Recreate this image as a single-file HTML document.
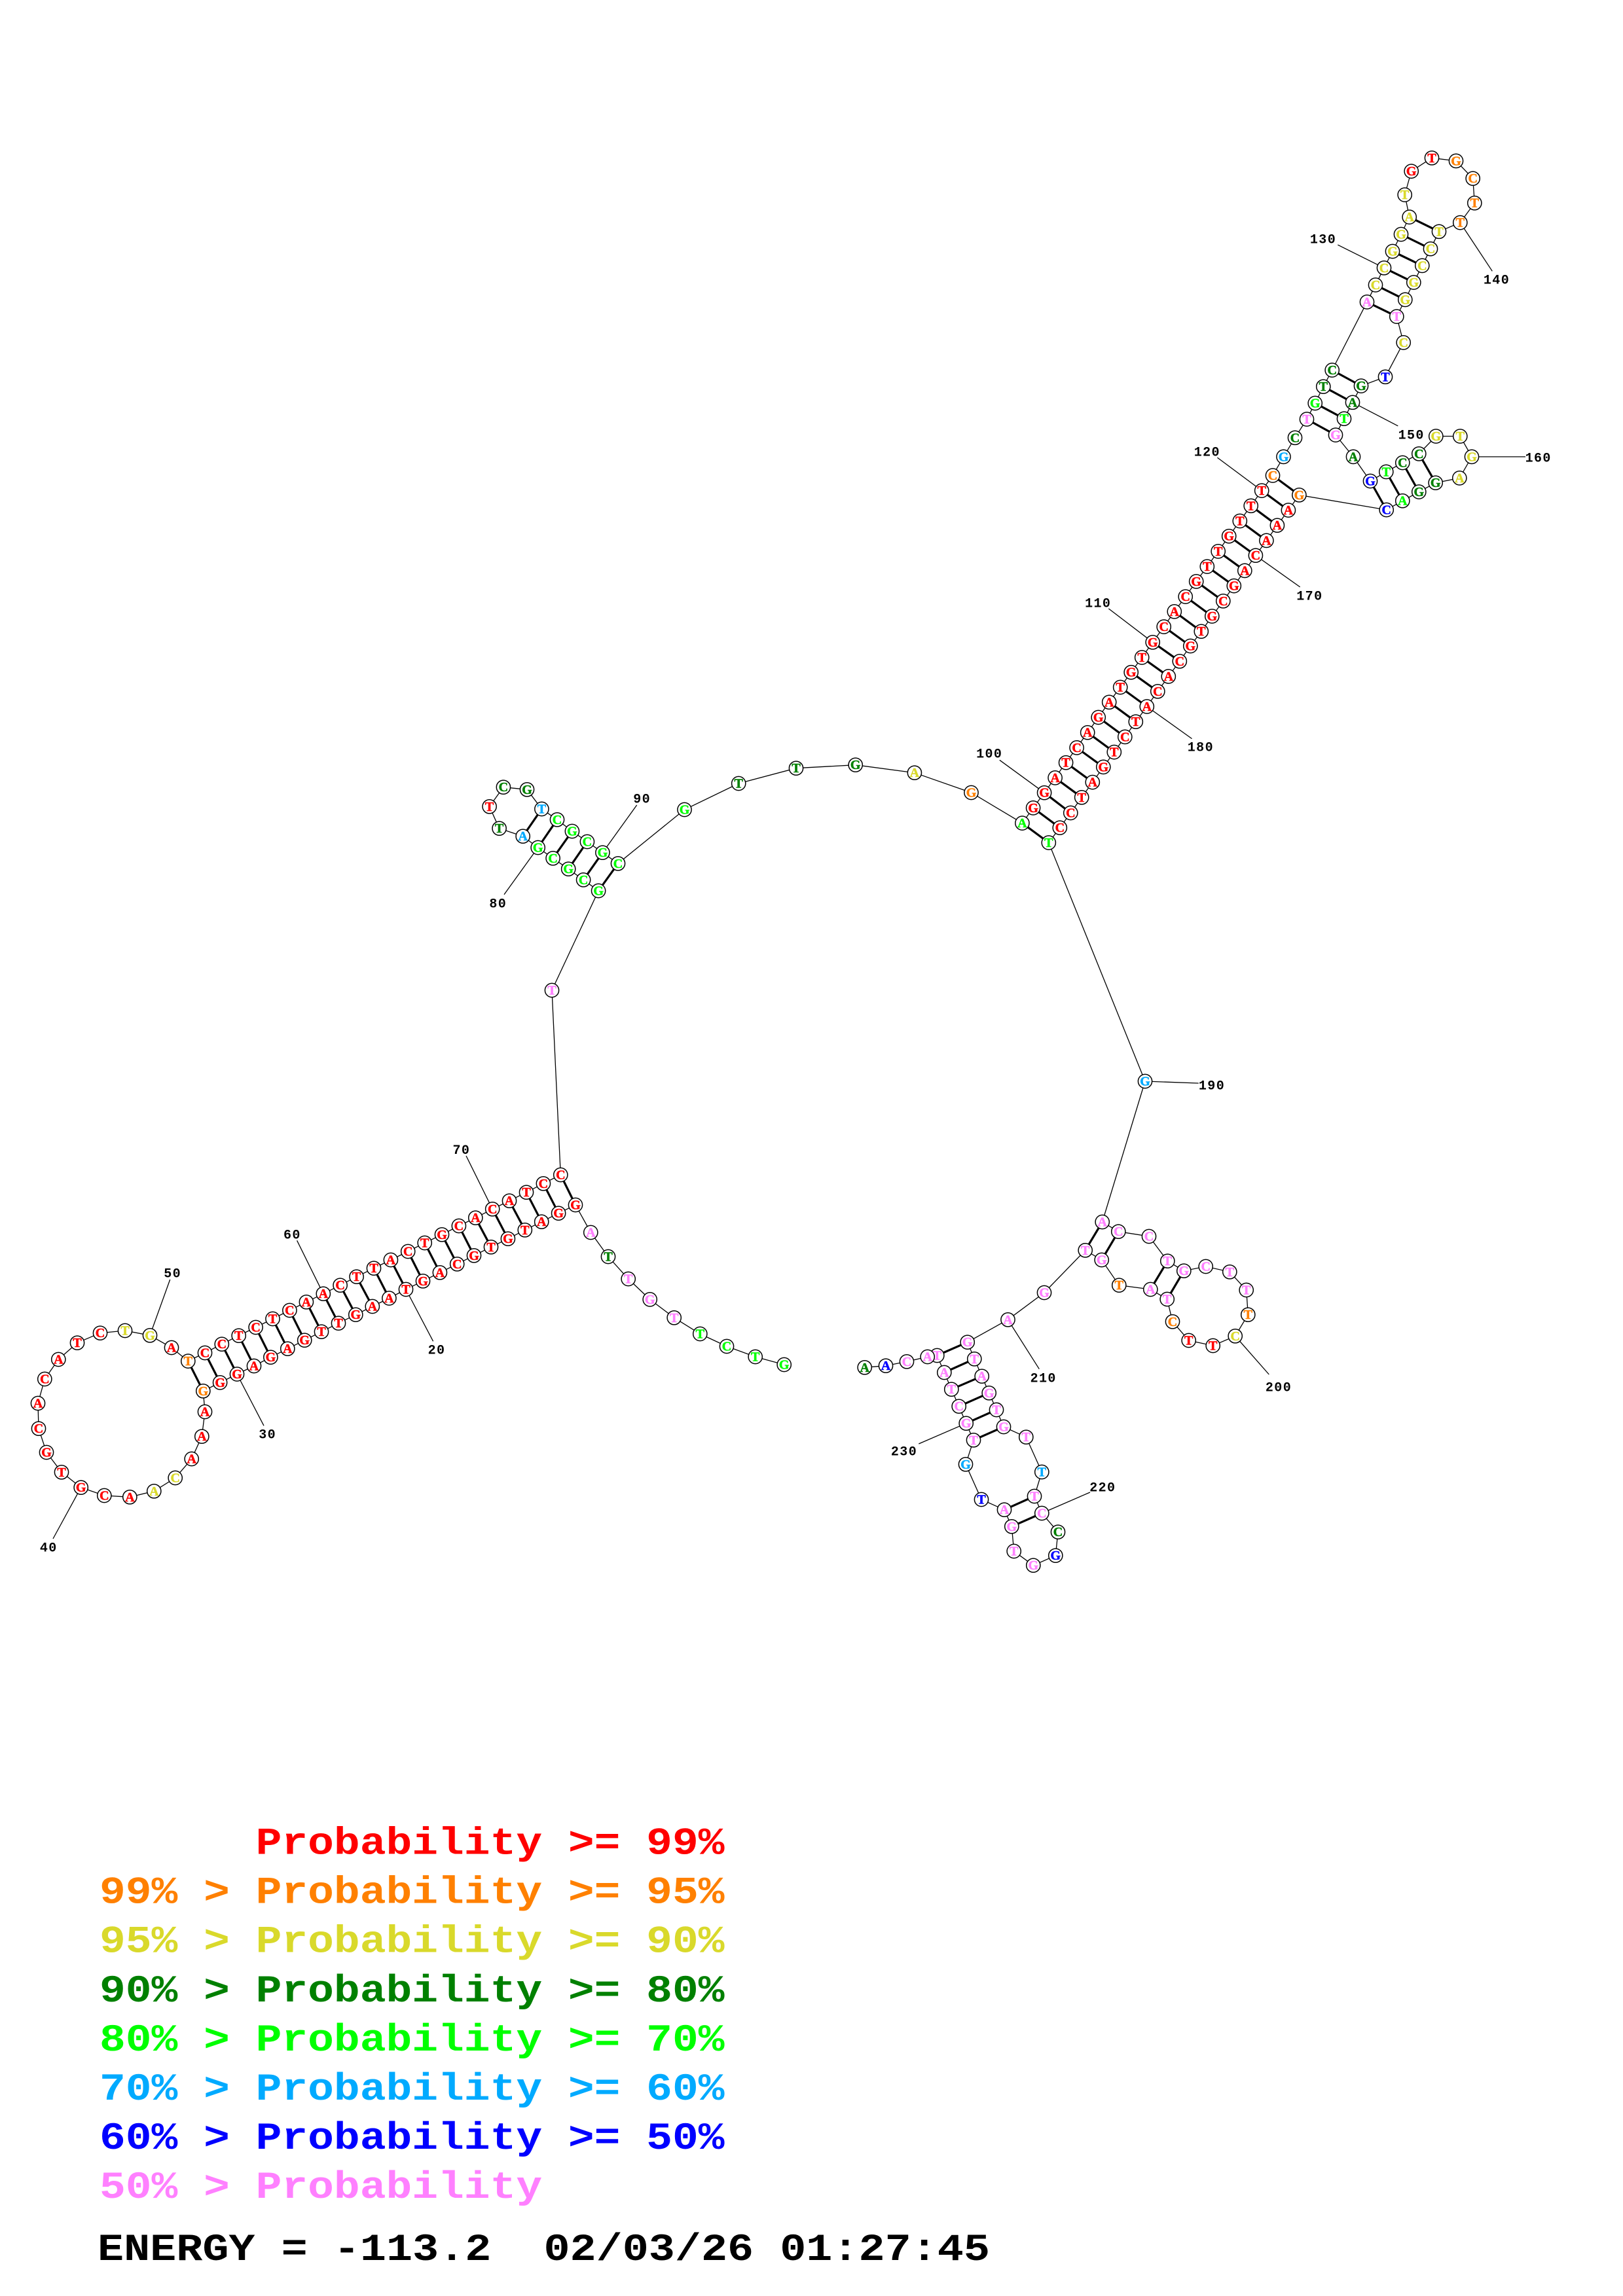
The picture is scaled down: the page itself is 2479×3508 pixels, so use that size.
<!DOCTYPE html>
<html><head><meta charset="utf-8"><title>RNA secondary structure</title>
<style>
html,body{margin:0;padding:0;background:#fff}
svg{display:block}
.bb,.ld{fill:none;stroke:#000;stroke-width:1.3}
.pr{fill:none;stroke:#000;stroke-width:3.2}
circle{fill:#fff;stroke:#000;stroke-width:1.5;r:10.6px}
.n text{font:bold 20px "Liberation Serif",serif;text-anchor:middle;stroke-width:.55px}
.lb text{font:bold 20px "Liberation Mono",monospace;text-anchor:middle;letter-spacing:1.4px;fill:#000}
.lg text{font:bold 58px "Liberation Mono",monospace;white-space:pre}
.r{fill:#f00}.o{fill:#ff8000}.y{fill:#d9d92b}.d{fill:#008000}.g{fill:#0f0}.s{fill:#0af}.b{fill:#00f}.p{fill:#ff80ff}
.n .r{stroke:#f00}.n .o{stroke:#ff8000}.n .y{stroke:#d9d92b}.n .d{stroke:#008000}.n .g{stroke:#0f0}.n .s{stroke:#0af}.n .b{stroke:#00f}.n .p{stroke:#ff80ff}
</style></head><body>
<svg width="2479" height="3508" viewBox="0 0 2479 3508" xmlns="http://www.w3.org/2000/svg">
<rect width="2479" height="3508" fill="#fff"/>
<polyline class="bb" points="1197.7,2085 1153.7,2073 1110,2057 1069.3,2038 1029.7,2013.3 992.7,1985.4 959.7,1954 929,1920 902.3,1883 879,1841 853.1,1853.7 827.2,1866.7 801.8,1879.3 775.9,1892.7 750,1905.3 724,1918.3 698.2,1931.3 671.9,1944.3 646,1957.3 620,1970 594.4,1983.5 568.8,1996 543.3,2008.7 517,2021.7 491,2034.7 465.2,2047.7 439.3,2060.7 413.4,2073.7 388,2087 362,2099.5 336.1,2112.4 310.3,2125.3 313,2157 308.3,2194.7 292.7,2229 267.7,2258 235.3,2278.3 198.3,2287.3 159.3,2285 123.7,2272.7 94,2249.3 71,2219 59,2182.7 58,2144 68.3,2107 89.3,2077 118,2051.7 153,2036.7 191,2033 229,2040.3 262,2059 287.3,2079.6 313,2067 338.8,2053.7 364.7,2040.7 390.6,2028 416.5,2015 442.4,2002 467.9,1989.3 493.8,1976.7 519.6,1963.7 544.6,1950.7 571,1937.7 596.9,1925 623.2,1912 648.7,1899 675,1886.3 700.9,1873 726.3,1860.7 752.2,1847.3 778,1834.7 804,1821.7 829.9,1808.3 856.3,1795 843,1513 914.1,1361 891.1,1344.3 868.2,1327.7 844.6,1311.3 821.7,1295 798.7,1277.7 762.6,1265.7 747.6,1232.3 768.9,1202.7 805,1206.3 827.4,1236 851,1252.3 873.9,1270 896.9,1286 920.4,1302.7 944,1319.3 1045.5,1237 1128.2,1197 1216,1173.7 1306.7,1168.7 1396.9,1180.7 1483.5,1211 1561.4,1257.6 1578.1,1234.4 1595.1,1211.2 1611.6,1188.4 1628.1,1165.2 1644.6,1142.4 1661.2,1119.2 1677.7,1096 1694.2,1072.8 1711.2,1050 1727.7,1027.2 1744.2,1004.5 1760.7,981.3 1777.7,957.6 1793.8,934.4 1810.7,911.6 1827.2,888.4 1843.8,865.6 1860.7,842.4 1877.2,819.2 1893.8,796 1910.7,772.8 1927.2,749.6 1944,726.5 1960.5,697.9 1978,668.8 1996,640.5 2008.7,616 2021.3,590.7 2034.7,565.5 2088,461.4 2101,435.4 2114,409.3 2127,384 2140,358 2152.7,331.6 2145.7,297.6 2155.7,261.6 2187,241.3 2224,245.9 2249.7,272.7 2252.3,310.2 2230.3,340.1 2198,353.8 2185,380.2 2172.3,405.9 2159.3,431.5 2146.3,457.9 2133.3,483.6 2143.7,523.4 2116,575.8 2079,589.6 2066,614.8 2053,639.7 2040,664.6 2067,697.9 2093,735 2117.3,720.9 2142.3,707 2167.3,693.3 2193.3,666.5 2230.3,666.5 2248,697.9 2229.3,730.4 2192.7,737.7 2167.3,751.5 2142.3,765.2 2117.7,779 1984.4,756.3 1967.9,779.5 1950.9,802.7 1934.4,825.9 1917.9,848.7 1901.3,871.9 1884.8,895.1 1868.3,918.3 1851.3,941.5 1834.8,964.7 1818.3,987 1801.8,1010.3 1784.8,1033.5 1768.3,1056.3 1751.8,1079.5 1734.8,1102.7 1718.3,1125.9 1701.8,1149.1 1685.3,1171.9 1668.8,1195.1 1652.2,1218.3 1635.3,1242 1618.8,1264.7 1601.8,1287.5 1749,1652 1683.7,1867 1708.3,1881.7 1755,1889 1783.3,1926.7 1808.3,1941.7 1841.7,1935 1878.3,1943.3 1903.7,1971 1906.3,2008.7 1886.7,2041.3 1852.7,2056 1815.7,2048 1791,2019.3 1782.7,1985 1757.3,1970 1709.3,1963.7 1682.7,1925 1657.7,1910.3 1595,1975 1539.5,2016.3 1477.7,2050.7 1488.3,2076.3 1499.7,2102.7 1510.7,2128.3 1522,2154 1533,2180 1567.3,2195.7 1591.3,2249 1580,2286 1591.3,2312 1616,2340.7 1612.3,2376.7 1578.3,2391.7 1548.7,2370 1545.3,2332.3 1534,2306.7 1499,2291 1475,2237.3 1487,2200.3 1475.7,2174.7 1464.7,2148.7 1453.3,2122.7 1442.3,2097 1431.3,2071 1416.7,2073 1385,2080.3 1353,2086.7 1320.7,2089.3"/>
<path class="pr" d="M879 1841L856.3 1795M853.1 1853.7L829.9 1808.3M827.2 1866.7L804 1821.7M801.8 1879.3L778 1834.7M775.9 1892.7L752.2 1847.3M750 1905.3L726.3 1860.7M724 1918.3L700.9 1873M698.2 1931.3L675 1886.3M671.9 1944.3L648.7 1899M646 1957.3L623.2 1912M620 1970L596.9 1925M594.4 1983.5L571 1937.7M568.8 1996L544.6 1950.7M543.3 2008.7L519.6 1963.7M517 2021.7L493.8 1976.7M491 2034.7L467.9 1989.3M465.2 2047.7L442.4 2002M439.3 2060.7L416.5 2015M413.4 2073.7L390.6 2028M388 2087L364.7 2040.7M362 2099.5L338.8 2053.7M336.1 2112.4L313 2067M310.3 2125.3L287.3 2079.6
M914.1 1361L944 1319.3M891.1 1344.3L920.4 1302.7M868.2 1327.7L896.9 1286M844.6 1311.3L873.9 1270M821.7 1295L851 1252.3M798.7 1277.7L827.4 1236
M1561.4 1257.6L1601.8 1287.5M1578.1 1234.4L1618.8 1264.7M1595.1 1211.2L1635.3 1242M1611.6 1188.4L1652.2 1218.3M1628.1 1165.2L1668.8 1195.1M1644.6 1142.4L1685.3 1171.9M1661.2 1119.2L1701.8 1149.1M1677.7 1096L1718.3 1125.9M1694.2 1072.8L1734.8 1102.7M1711.2 1050L1751.8 1079.5M1727.7 1027.2L1768.3 1056.3M1744.2 1004.5L1784.8 1033.5M1760.7 981.3L1801.8 1010.3M1777.7 957.6L1818.3 987M1793.8 934.4L1834.8 964.7M1810.7 911.6L1851.3 941.5M1827.2 888.4L1868.3 918.3M1843.8 865.6L1884.8 895.1M1860.7 842.4L1901.3 871.9M1877.2 819.2L1917.9 848.7M1893.8 796L1934.4 825.9M1910.7 772.8L1950.9 802.7M1927.2 749.6L1967.9 779.5M1944 726.5L1984.4 756.3
M1996 640.5L2040 664.6M2008.7 616L2053 639.7M2021.3 590.7L2066 614.8M2034.7 565.5L2079 589.6
M2088 461.4L2133.3 483.6M2101 435.4L2146.3 457.9M2114 409.3L2159.3 431.5M2127 384L2172.3 405.9M2140 358L2185 380.2M2152.7 331.6L2198 353.8
M2093 735L2117.7 779M2117.3 720.9L2142.3 765.2M2142.3 707L2167.3 751.5M2167.3 693.3L2192.7 737.7
M1683.7 1867L1657.7 1910.3M1708.3 1881.7L1682.7 1925M1783.3 1926.7L1757.3 1970M1808.3 1941.7L1782.7 1985
M1477.7 2050.7L1431.3 2071M1488.3 2076.3L1442.3 2097M1499.7 2102.7L1453.3 2122.7M1510.7 2128.3L1464.7 2148.7M1522 2154L1475.7 2174.7M1533 2180L1487 2200.3
M1580 2286L1534 2306.7M1591.3 2312L1545.3 2332.3"/>
<path class="ld" d="M2043.3 374.1L2114 409.3M2279.3 414.3L2230.3 340.1M2135.3 650.8L2066 614.8M2330 697.9L2248 697.9M1859.4 699.1L1927.2 749.6M1985.7 896.9L1917.9 848.7M1693.3 929.9L1760.7 981.3M1820.5 1128.6L1751.8 1079.5M1526.8 1161.3L1595.1 1211.2M972.7 1230L920.4 1302.7M770 1366.7L821.7 1295M712 1766L752.2 1847.3M453.6 1895.3L493.8 1976.7M259.7 1955L229 2040.3M81 2351L123.7 2272.7M403 2178.3L362 2099.5M661.6 2049.3L620 1970M1830.7 1655L1749 1652M1938.3 2100L1886.7 2041.3M1587.3 2091.7L1539.5 2016.3M1665 2280L1591.3 2312M1403.3 2206L1475.7 2174.7"/>
<g>
<circle cx="1197.7" cy="2085"/><circle cx="1153.7" cy="2073"/><circle cx="1110" cy="2057"/><circle cx="1069.3" cy="2038"/><circle cx="1029.7" cy="2013.3"/><circle cx="992.7" cy="1985.4"/><circle cx="959.7" cy="1954"/><circle cx="929" cy="1920"/><circle cx="902.3" cy="1883"/><circle cx="879" cy="1841"/><circle cx="853.1" cy="1853.7"/><circle cx="827.2" cy="1866.7"/><circle cx="801.8" cy="1879.3"/><circle cx="775.9" cy="1892.7"/><circle cx="750" cy="1905.3"/><circle cx="724" cy="1918.3"/><circle cx="698.2" cy="1931.3"/><circle cx="671.9" cy="1944.3"/><circle cx="646" cy="1957.3"/><circle cx="620" cy="1970"/><circle cx="594.4" cy="1983.5"/><circle cx="568.8" cy="1996"/><circle cx="543.3" cy="2008.7"/><circle cx="517" cy="2021.7"/><circle cx="491" cy="2034.7"/><circle cx="465.2" cy="2047.7"/><circle cx="439.3" cy="2060.7"/><circle cx="413.4" cy="2073.7"/><circle cx="388" cy="2087"/><circle cx="362" cy="2099.5"/><circle cx="336.1" cy="2112.4"/><circle cx="310.3" cy="2125.3"/><circle cx="313" cy="2157"/><circle cx="308.3" cy="2194.7"/><circle cx="292.7" cy="2229"/><circle cx="267.7" cy="2258"/><circle cx="235.3" cy="2278.3"/><circle cx="198.3" cy="2287.3"/><circle cx="159.3" cy="2285"/><circle cx="123.7" cy="2272.7"/><circle cx="94" cy="2249.3"/><circle cx="71" cy="2219"/><circle cx="59" cy="2182.7"/><circle cx="58" cy="2144"/><circle cx="68.3" cy="2107"/><circle cx="89.3" cy="2077"/><circle cx="118" cy="2051.7"/><circle cx="153" cy="2036.7"/><circle cx="191" cy="2033"/><circle cx="229" cy="2040.3"/><circle cx="262" cy="2059"/><circle cx="287.3" cy="2079.6"/><circle cx="313" cy="2067"/><circle cx="338.8" cy="2053.7"/><circle cx="364.7" cy="2040.7"/><circle cx="390.6" cy="2028"/><circle cx="416.5" cy="2015"/><circle cx="442.4" cy="2002"/><circle cx="467.9" cy="1989.3"/><circle cx="493.8" cy="1976.7"/><circle cx="519.6" cy="1963.7"/><circle cx="544.6" cy="1950.7"/><circle cx="571" cy="1937.7"/><circle cx="596.9" cy="1925"/><circle cx="623.2" cy="1912"/><circle cx="648.7" cy="1899"/><circle cx="675" cy="1886.3"/><circle cx="700.9" cy="1873"/><circle cx="726.3" cy="1860.7"/><circle cx="752.2" cy="1847.3"/><circle cx="778" cy="1834.7"/><circle cx="804" cy="1821.7"/><circle cx="829.9" cy="1808.3"/><circle cx="856.3" cy="1795"/><circle cx="843" cy="1513"/><circle cx="914.1" cy="1361"/><circle cx="891.1" cy="1344.3"/><circle cx="868.2" cy="1327.7"/><circle cx="844.6" cy="1311.3"/><circle cx="821.7" cy="1295"/><circle cx="798.7" cy="1277.7"/><circle cx="762.6" cy="1265.7"/><circle cx="747.6" cy="1232.3"/><circle cx="768.9" cy="1202.7"/><circle cx="805" cy="1206.3"/><circle cx="827.4" cy="1236"/><circle cx="851" cy="1252.3"/><circle cx="873.9" cy="1270"/><circle cx="896.9" cy="1286"/><circle cx="920.4" cy="1302.7"/><circle cx="944" cy="1319.3"/><circle cx="1045.5" cy="1237"/><circle cx="1128.2" cy="1197"/><circle cx="1216" cy="1173.7"/><circle cx="1306.7" cy="1168.7"/><circle cx="1396.9" cy="1180.7"/><circle cx="1483.5" cy="1211"/><circle cx="1561.4" cy="1257.6"/><circle cx="1578.1" cy="1234.4"/><circle cx="1595.1" cy="1211.2"/><circle cx="1611.6" cy="1188.4"/><circle cx="1628.1" cy="1165.2"/><circle cx="1644.6" cy="1142.4"/><circle cx="1661.2" cy="1119.2"/><circle cx="1677.7" cy="1096"/><circle cx="1694.2" cy="1072.8"/><circle cx="1711.2" cy="1050"/><circle cx="1727.7" cy="1027.2"/><circle cx="1744.2" cy="1004.5"/><circle cx="1760.7" cy="981.3"/><circle cx="1777.7" cy="957.6"/><circle cx="1793.8" cy="934.4"/><circle cx="1810.7" cy="911.6"/><circle cx="1827.2" cy="888.4"/><circle cx="1843.8" cy="865.6"/><circle cx="1860.7" cy="842.4"/><circle cx="1877.2" cy="819.2"/><circle cx="1893.8" cy="796"/><circle cx="1910.7" cy="772.8"/><circle cx="1927.2" cy="749.6"/><circle cx="1944" cy="726.5"/><circle cx="1960.5" cy="697.9"/><circle cx="1978" cy="668.8"/><circle cx="1996" cy="640.5"/><circle cx="2008.7" cy="616"/><circle cx="2021.3" cy="590.7"/><circle cx="2034.7" cy="565.5"/><circle cx="2088" cy="461.4"/><circle cx="2101" cy="435.4"/><circle cx="2114" cy="409.3"/><circle cx="2127" cy="384"/><circle cx="2140" cy="358"/><circle cx="2152.7" cy="331.6"/><circle cx="2145.7" cy="297.6"/><circle cx="2155.7" cy="261.6"/><circle cx="2187" cy="241.3"/><circle cx="2224" cy="245.9"/><circle cx="2249.7" cy="272.7"/><circle cx="2252.3" cy="310.2"/><circle cx="2230.3" cy="340.1"/><circle cx="2198" cy="353.8"/><circle cx="2185" cy="380.2"/><circle cx="2172.3" cy="405.9"/><circle cx="2159.3" cy="431.5"/><circle cx="2146.3" cy="457.9"/><circle cx="2133.3" cy="483.6"/><circle cx="2143.7" cy="523.4"/><circle cx="2116" cy="575.8"/><circle cx="2079" cy="589.6"/><circle cx="2066" cy="614.8"/><circle cx="2053" cy="639.7"/><circle cx="2040" cy="664.6"/><circle cx="2067" cy="697.9"/><circle cx="2093" cy="735"/><circle cx="2117.3" cy="720.9"/><circle cx="2142.3" cy="707"/><circle cx="2167.3" cy="693.3"/><circle cx="2193.3" cy="666.5"/><circle cx="2230.3" cy="666.5"/><circle cx="2248" cy="697.9"/><circle cx="2229.3" cy="730.4"/><circle cx="2192.7" cy="737.7"/><circle cx="2167.3" cy="751.5"/><circle cx="2142.3" cy="765.2"/><circle cx="2117.7" cy="779"/><circle cx="1984.4" cy="756.3"/><circle cx="1967.9" cy="779.5"/><circle cx="1950.9" cy="802.7"/><circle cx="1934.4" cy="825.9"/><circle cx="1917.9" cy="848.7"/><circle cx="1901.3" cy="871.9"/><circle cx="1884.8" cy="895.1"/><circle cx="1868.3" cy="918.3"/><circle cx="1851.3" cy="941.5"/><circle cx="1834.8" cy="964.7"/><circle cx="1818.3" cy="987"/><circle cx="1801.8" cy="1010.3"/><circle cx="1784.8" cy="1033.5"/><circle cx="1768.3" cy="1056.3"/><circle cx="1751.8" cy="1079.5"/><circle cx="1734.8" cy="1102.7"/><circle cx="1718.3" cy="1125.9"/><circle cx="1701.8" cy="1149.1"/><circle cx="1685.3" cy="1171.9"/><circle cx="1668.8" cy="1195.1"/><circle cx="1652.2" cy="1218.3"/><circle cx="1635.3" cy="1242"/><circle cx="1618.8" cy="1264.7"/><circle cx="1601.8" cy="1287.5"/><circle cx="1749" cy="1652"/><circle cx="1683.7" cy="1867"/><circle cx="1708.3" cy="1881.7"/><circle cx="1755" cy="1889"/><circle cx="1783.3" cy="1926.7"/><circle cx="1808.3" cy="1941.7"/><circle cx="1841.7" cy="1935"/><circle cx="1878.3" cy="1943.3"/><circle cx="1903.7" cy="1971"/><circle cx="1906.3" cy="2008.7"/><circle cx="1886.7" cy="2041.3"/><circle cx="1852.7" cy="2056"/><circle cx="1815.7" cy="2048"/><circle cx="1791" cy="2019.3"/><circle cx="1782.7" cy="1985"/><circle cx="1757.3" cy="1970"/><circle cx="1709.3" cy="1963.7"/><circle cx="1682.7" cy="1925"/><circle cx="1657.7" cy="1910.3"/><circle cx="1595" cy="1975"/><circle cx="1539.5" cy="2016.3"/><circle cx="1477.7" cy="2050.7"/><circle cx="1488.3" cy="2076.3"/><circle cx="1499.7" cy="2102.7"/><circle cx="1510.7" cy="2128.3"/><circle cx="1522" cy="2154"/><circle cx="1533" cy="2180"/><circle cx="1567.3" cy="2195.7"/><circle cx="1591.3" cy="2249"/><circle cx="1580" cy="2286"/><circle cx="1591.3" cy="2312"/><circle cx="1616" cy="2340.7"/><circle cx="1612.3" cy="2376.7"/><circle cx="1578.3" cy="2391.7"/><circle cx="1548.7" cy="2370"/><circle cx="1545.3" cy="2332.3"/><circle cx="1534" cy="2306.7"/><circle cx="1499" cy="2291"/><circle cx="1475" cy="2237.3"/><circle cx="1487" cy="2200.3"/><circle cx="1475.7" cy="2174.7"/><circle cx="1464.7" cy="2148.7"/><circle cx="1453.3" cy="2122.7"/><circle cx="1442.3" cy="2097"/><circle cx="1431.3" cy="2071"/><circle cx="1385" cy="2080.3"/><circle cx="1353" cy="2086.7"/><circle cx="1320.7" cy="2089.3"/>
</g>
<g class="n" transform="translate(0,6.5)">
<text class="g" x="1197.7" y="2085">G</text><text class="g" x="1153.7" y="2073">T</text><text class="g" x="1110" y="2057">C</text><text class="g" x="1069.3" y="2038">T</text><text class="p" x="1029.7" y="2013.3">T</text><text class="p" x="992.7" y="1985.4">G</text><text class="p" x="959.7" y="1954">T</text><text class="d" x="929" y="1920">T</text><text class="p" x="902.3" y="1883">A</text>
<text class="r" x="879" y="1841">G</text><text class="r" x="853.1" y="1853.7">G</text><text class="r" x="827.2" y="1866.7">A</text><text class="r" x="801.8" y="1879.3">T</text><text class="r" x="775.9" y="1892.7">G</text><text class="r" x="750" y="1905.3">T</text><text class="r" x="724" y="1918.3">G</text><text class="r" x="698.2" y="1931.3">C</text><text class="r" x="671.9" y="1944.3">A</text><text class="r" x="646" y="1957.3">G</text><text class="r" x="620" y="1970">T</text><text class="r" x="594.4" y="1983.5">A</text><text class="r" x="568.8" y="1996">A</text><text class="r" x="543.3" y="2008.7">G</text><text class="r" x="517" y="2021.7">T</text><text class="r" x="491" y="2034.7">T</text><text class="r" x="465.2" y="2047.7">G</text><text class="r" x="439.3" y="2060.7">A</text><text class="r" x="413.4" y="2073.7">G</text><text class="r" x="388" y="2087">A</text><text class="r" x="362" y="2099.5">G</text><text class="r" x="336.1" y="2112.4">G</text>
<text class="o" x="310.3" y="2125.3">G</text><text class="r" x="313" y="2157">A</text><text class="r" x="308.3" y="2194.7">A</text><text class="r" x="292.7" y="2229">A</text><text class="y" x="267.7" y="2258">C</text><text class="y" x="235.3" y="2278.3">A</text><text class="r" x="198.3" y="2287.3">A</text><text class="r" x="159.3" y="2285">C</text><text class="r" x="123.7" y="2272.7">G</text><text class="r" x="94" y="2249.3">T</text><text class="r" x="71" y="2219">G</text><text class="r" x="59" y="2182.7">C</text><text class="r" x="58" y="2144">A</text><text class="r" x="68.3" y="2107">C</text><text class="r" x="89.3" y="2077">A</text><text class="r" x="118" y="2051.7">T</text><text class="r" x="153" y="2036.7">C</text><text class="y" x="191" y="2033">T</text><text class="y" x="229" y="2040.3">G</text><text class="r" x="262" y="2059">A</text><text class="o" x="287.3" y="2079.6">T</text>
<text class="r" x="313" y="2067">C</text><text class="r" x="338.8" y="2053.7">C</text><text class="r" x="364.7" y="2040.7">T</text><text class="r" x="390.6" y="2028">C</text><text class="r" x="416.5" y="2015">T</text><text class="r" x="442.4" y="2002">C</text><text class="r" x="467.9" y="1989.3">A</text><text class="r" x="493.8" y="1976.7">A</text><text class="r" x="519.6" y="1963.7">C</text><text class="r" x="544.6" y="1950.7">T</text><text class="r" x="571" y="1937.7">T</text><text class="r" x="596.9" y="1925">A</text><text class="r" x="623.2" y="1912">C</text><text class="r" x="648.7" y="1899">T</text><text class="r" x="675" y="1886.3">G</text><text class="r" x="700.9" y="1873">C</text><text class="r" x="726.3" y="1860.7">A</text><text class="r" x="752.2" y="1847.3">C</text><text class="r" x="778" y="1834.7">A</text><text class="r" x="804" y="1821.7">T</text><text class="r" x="829.9" y="1808.3">C</text><text class="r" x="856.3" y="1795">C</text>
<text class="p" x="843" y="1513">T</text><text class="g" x="914.1" y="1361">G</text><text class="g" x="891.1" y="1344.3">C</text><text class="g" x="868.2" y="1327.7">G</text><text class="g" x="844.6" y="1311.3">C</text><text class="g" x="821.7" y="1295">G</text><text class="s" x="798.7" y="1277.7">A</text><text class="d" x="762.6" y="1265.7">T</text><text class="r" x="747.6" y="1232.3">T</text><text class="d" x="768.9" y="1202.7">C</text><text class="d" x="805" y="1206.3">G</text><text class="s" x="827.4" y="1236">T</text><text class="g" x="851" y="1252.3">C</text><text class="g" x="873.9" y="1270">G</text><text class="g" x="896.9" y="1286">C</text><text class="g" x="920.4" y="1302.7">G</text><text class="g" x="944" y="1319.3">C</text><text class="g" x="1045.5" y="1237">G</text><text class="d" x="1128.2" y="1197">T</text><text class="d" x="1216" y="1173.7">T</text><text class="d" x="1306.7" y="1168.7">G</text><text class="y" x="1396.9" y="1180.7">A</text><text class="o" x="1483.5" y="1211">G</text><text class="g" x="1561.4" y="1257.6">A</text>
<text class="r" x="1578.1" y="1234.4">G</text><text class="r" x="1595.1" y="1211.2">G</text><text class="r" x="1611.6" y="1188.4">A</text><text class="r" x="1628.1" y="1165.2">T</text><text class="r" x="1644.6" y="1142.4">C</text><text class="r" x="1661.2" y="1119.2">A</text><text class="r" x="1677.7" y="1096">G</text><text class="r" x="1694.2" y="1072.8">A</text><text class="r" x="1711.2" y="1050">T</text><text class="r" x="1727.7" y="1027.2">G</text><text class="r" x="1744.2" y="1004.5">T</text><text class="r" x="1760.7" y="981.3">G</text><text class="r" x="1777.7" y="957.6">C</text><text class="r" x="1793.8" y="934.4">A</text><text class="r" x="1810.7" y="911.6">C</text><text class="r" x="1827.2" y="888.4">G</text><text class="r" x="1843.8" y="865.6">T</text><text class="r" x="1860.7" y="842.4">T</text><text class="r" x="1877.2" y="819.2">G</text><text class="r" x="1893.8" y="796">T</text><text class="r" x="1910.7" y="772.8">T</text><text class="r" x="1927.2" y="749.6">T</text>
<text class="o" x="1944" y="726.5">C</text><text class="s" x="1960.5" y="697.9">G</text><text class="d" x="1978" y="668.8">C</text><text class="p" x="1996" y="640.5">T</text><text class="g" x="2008.7" y="616">G</text><text class="d" x="2021.3" y="590.7">T</text><text class="d" x="2034.7" y="565.5">C</text><text class="p" x="2088" y="461.4">A</text><text class="y" x="2101" y="435.4">C</text><text class="y" x="2114" y="409.3">C</text><text class="y" x="2127" y="384">G</text><text class="y" x="2140" y="358">G</text><text class="y" x="2152.7" y="331.6">A</text><text class="y" x="2145.7" y="297.6">T</text><text class="r" x="2155.7" y="261.6">G</text><text class="r" x="2187" y="241.3">T</text><text class="o" x="2224" y="245.9">G</text><text class="o" x="2249.7" y="272.7">C</text><text class="o" x="2252.3" y="310.2">T</text><text class="o" x="2230.3" y="340.1">T</text><text class="y" x="2198" y="353.8">T</text><text class="y" x="2185" y="380.2">C</text><text class="y" x="2172.3" y="405.9">C</text><text class="y" x="2159.3" y="431.5">G</text><text class="y" x="2146.3" y="457.9">G</text><text class="p" x="2133.3" y="483.6">T</text><text class="y" x="2143.7" y="523.4">C</text><text class="b" x="2116" y="575.8">T</text><text class="d" x="2079" y="589.6">G</text><text class="d" x="2066" y="614.8">A</text><text class="g" x="2053" y="639.7">T</text><text class="p" x="2040" y="664.6">G</text><text class="d" x="2067" y="697.9">A</text><text class="b" x="2093" y="735">G</text><text class="g" x="2117.3" y="720.9">T</text><text class="d" x="2142.3" y="707">C</text><text class="d" x="2167.3" y="693.3">C</text><text class="y" x="2193.3" y="666.5">G</text><text class="y" x="2230.3" y="666.5">T</text><text class="y" x="2248" y="697.9">G</text><text class="y" x="2229.3" y="730.4">A</text><text class="d" x="2192.7" y="737.7">G</text><text class="d" x="2167.3" y="751.5">G</text><text class="g" x="2142.3" y="765.2">A</text><text class="b" x="2117.7" y="779">C</text><text class="o" x="1984.4" y="756.3">G</text>
<text class="r" x="1967.9" y="779.5">A</text><text class="r" x="1950.9" y="802.7">A</text><text class="r" x="1934.4" y="825.9">A</text><text class="r" x="1917.9" y="848.7">C</text><text class="r" x="1901.3" y="871.9">A</text><text class="r" x="1884.8" y="895.1">G</text><text class="r" x="1868.3" y="918.3">C</text><text class="r" x="1851.3" y="941.5">G</text><text class="r" x="1834.8" y="964.7">T</text><text class="r" x="1818.3" y="987">G</text><text class="r" x="1801.8" y="1010.3">C</text><text class="r" x="1784.8" y="1033.5">A</text><text class="r" x="1768.3" y="1056.3">C</text><text class="r" x="1751.8" y="1079.5">A</text><text class="r" x="1734.8" y="1102.7">T</text><text class="r" x="1718.3" y="1125.9">C</text><text class="r" x="1701.8" y="1149.1">T</text><text class="r" x="1685.3" y="1171.9">G</text><text class="r" x="1668.8" y="1195.1">A</text><text class="r" x="1652.2" y="1218.3">T</text><text class="r" x="1635.3" y="1242">C</text><text class="r" x="1618.8" y="1264.7">C</text><text class="g" x="1601.8" y="1287.5">T</text><text class="s" x="1749" y="1652">G</text>
<text class="p" x="1683.7" y="1867">A</text><text class="p" x="1708.3" y="1881.7">C</text><text class="p" x="1755" y="1889">C</text><text class="p" x="1783.3" y="1926.7">T</text><text class="p" x="1808.3" y="1941.7">G</text><text class="p" x="1841.7" y="1935">C</text><text class="p" x="1878.3" y="1943.3">T</text><text class="p" x="1903.7" y="1971">T</text><text class="o" x="1906.3" y="2008.7">T</text><text class="y" x="1886.7" y="2041.3">C</text><text class="r" x="1852.7" y="2056">T</text><text class="r" x="1815.7" y="2048">T</text><text class="o" x="1791" y="2019.3">C</text><text class="p" x="1782.7" y="1985">T</text><text class="p" x="1757.3" y="1970">A</text><text class="o" x="1709.3" y="1963.7">T</text><text class="p" x="1682.7" y="1925">G</text><text class="p" x="1657.7" y="1910.3">T</text><text class="p" x="1595" y="1975">G</text><text class="p" x="1539.5" y="2016.3">A</text>
<text class="p" x="1477.7" y="2050.7">G</text><text class="p" x="1488.3" y="2076.3">T</text><text class="p" x="1499.7" y="2102.7">A</text><text class="p" x="1510.7" y="2128.3">G</text><text class="p" x="1522" y="2154">T</text><text class="p" x="1533" y="2180">G</text><text class="p" x="1567.3" y="2195.7">T</text><text class="s" x="1591.3" y="2249">T</text><text class="p" x="1580" y="2286">T</text><text class="p" x="1591.3" y="2312">C</text><text class="d" x="1616" y="2340.7">C</text><text class="b" x="1612.3" y="2376.7">G</text><text class="p" x="1578.3" y="2391.7">G</text><text class="p" x="1548.7" y="2370">T</text><text class="p" x="1545.3" y="2332.3">G</text><text class="p" x="1534" y="2306.7">A</text><text class="b" x="1499" y="2291">T</text><text class="s" x="1475" y="2237.3">G</text><text class="p" x="1487" y="2200.3">T</text><text class="p" x="1475.7" y="2174.7">G</text><text class="p" x="1464.7" y="2148.7">C</text><text class="p" x="1453.3" y="2122.7">T</text><text class="p" x="1442.3" y="2097">A</text><text class="p" x="1431.3" y="2071">T</text><text class="p" x="1385" y="2080.3">C</text><text class="b" x="1353" y="2086.7">A</text><text class="d" x="1320.7" y="2089.3">A</text>
</g>
<circle cx="1416.7" cy="2073"/>
<g class="n"><text class="p" x="1416.7" y="2079.5">A</text></g>
<g class="lb" transform="translate(0,7)">
<text x="2021" y="364.6">130</text><text x="2286" y="426.6">140</text><text x="2155.7" y="663.4">150</text><text x="2349.7" y="698.7">160</text><text x="1843.8" y="689.7">120</text><text x="2000.4" y="909.4">170</text><text x="1677.2" y="920.5">110</text><text x="1833.9" y="1140.6">180</text><text x="1511.2" y="1150.7">100</text><text x="980.7" y="1219.3">90</text><text x="760.8" y="1379.3">80</text><text x="704.9" y="1756">70</text><text x="446.4" y="1885.7">60</text><text x="263.7" y="1944.3">50</text><text x="74.3" y="2363.3">40</text><text x="408.7" y="2190.3">30</text><text x="667" y="2061.7">20</text><text x="1851" y="1657.7">190</text><text x="1953" y="2118.5">200</text><text x="1593.7" y="2104.3">210</text><text x="1684.3" y="2271.7">220</text><text x="1381" y="2216.7">230</text>
</g>
<g class="lg" transform="translate(152,0) scale(1.143,1)">
<text class="r" y="2832.5">      Probability &gt;= 99%</text>
<text class="o" y="2907.6">99% &gt; Probability &gt;= 95%</text>
<text class="y" y="2982.7">95% &gt; Probability &gt;= 90%</text>
<text class="d" y="3057.8">90% &gt; Probability &gt;= 80%</text>
<text class="g" y="3132.9">80% &gt; Probability &gt;= 70%</text>
<text class="s" y="3208">70% &gt; Probability &gt;= 60%</text>
<text class="b" y="3283.1">60% &gt; Probability &gt;= 50%</text>
<text class="p" y="3358.2">50% &gt; Probability</text>
</g>
<g class="lg" transform="translate(149,0) scale(1.152,1)">
<text fill="#000" y="3453">ENERGY = -113.2  02/03/26 01:27:45</text>
</g>
</svg>
</body></html>
